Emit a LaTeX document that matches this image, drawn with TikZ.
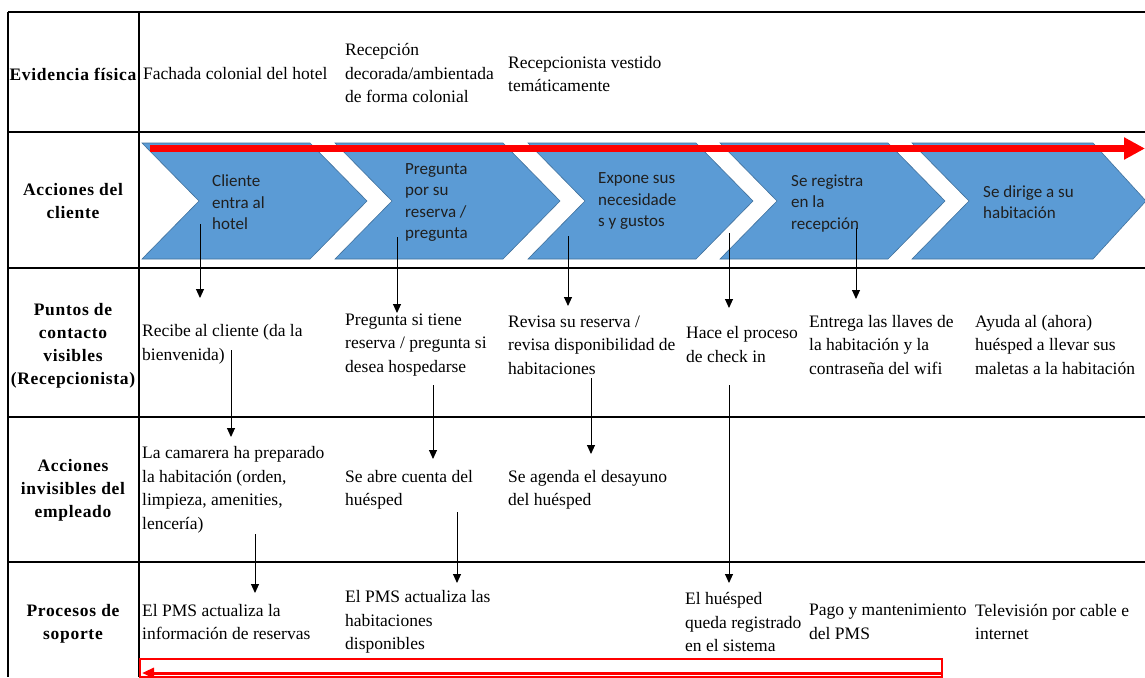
\documentclass[tikz,border=0pt]{standalone}
\usepackage{fontspec}
\setmainfont{Liberation Serif}
\newfontfamily\calibrifont{Carlito}
\newfontfamily\labfont[LetterSpace=4]{Liberation Serif}
\usetikzlibrary{arrows.meta}
\definecolor{chev}{HTML}{5B9BD5}
\definecolor{chevedge}{HTML}{41719C}
\begin{document}
\begin{tikzpicture}[x=1pt,y=-1pt,
  txt/.style={font=\fontsize{17.5}{23.5}\selectfont, align=left, anchor=west, inner sep=0pt},
  lab/.style={font=\labfont\bfseries\fontsize{17.5}{23}\selectfont, align=center, inner sep=0pt},
  ctxt/.style={font=\calibrifont\fontsize{17}{21.5}\selectfont, align=left, anchor=west, inner sep=0pt, text=black!88},
  chevron/.style={fill=chev, draw=chevedge, line width=0.6pt},
  conn/.style={-{Triangle[length=9pt,width=8pt]}, line width=1pt},
  gridline/.style={line width=1.2pt},
  redarrow/.style={draw=red, line width=7pt, -{Triangle[length=21pt,width=21pt]}}]
\useasboundingbox (0,0) rectangle (1145,677);
\fill[white] (0,0) rectangle (1145,677);

% table grid
\foreach \yy in {12,132,268,417,562} \draw[gridline] (8,\yy) -- (1145,\yy);
\draw[line width=2pt] (8,12) -- (8,677);
\draw[line width=2.4pt] (139,12) -- (139,677);

% chevrons
\foreach \x in {142,335,528,720} {
  \draw[chevron] (\x,143) -- ++(168,0) -- ++(57,58) -- ++(-57,58) -- ++(-168,0) -- ++(57,-58) -- cycle;
}
\draw[chevron] (912,143) -- (1093,143) -- (1146,201) -- (1093,259) -- (912,259) -- (969,201) -- cycle;

% red arrow top
\coordinate (rs) at (150,148.5);
\coordinate (re) at (1145,148.5);
\draw[redarrow] (rs) -- (re);

% bottom red
\draw[red, line width=2pt] (140,659) rectangle (942,677);
\coordinate (bs) at (941,673);
\coordinate (be) at (142,673);
\draw[red, line width=3pt, -{Triangle[length=12pt,width=10pt]}] (bs) -- (be);

% row labels
\node[lab] (l1) at (73,74) {Evidencia física};
\node[lab] (l2) at (73,201.5) {Acciones del\\cliente};
\node[lab] (l3) at (73,345.5) {Puntos de\\contacto\\visibles\\(Recepcionista)};
\node[lab] (l4) at (73,490) {Acciones\\invisibles del\\empleado};
\node[lab] (l5) at (73,624) {Procesos de\\soporte};

% row 1
\node[txt] (e1) at (143,74) {Fachada colonial del hotel};
\node[txt] (e2) at (345,73.5) {Recepción\\decorada/ambientada\\de forma colonial};
\node[txt] (e3) at (508,74) {Recepcionista vestido\\temáticamente};

% chevron texts
\node[ctxt] (c1) at (212,202.5) {Cliente\\entra al\\hotel};
\node[ctxt] (c2) at (405,202.5) {Pregunta\\por su\\reserva /\\pregunta};
\node[ctxt] (c3) at (598,201.5) {Expone sus\\necesidade\\s y gustos};
\node[ctxt] (c4) at (791,203.5) {Se registra\\en la\\recepción};
\node[ctxt] (c5) at (983,202) {Se dirige a su\\habitación};

% row 3
\node[txt] (p1) at (142,344.5) {Recibe al cliente (da la\\bienvenida)};
\node[txt] (p2) at (345,345) {Pregunta si tiene\\reserva / pregunta si\\desea hospedarse};
\node[txt] (p3) at (508,345) {Revisa su reserva /\\revisa disponibilidad de\\habitaciones};
\node[txt] (p4) at (686,344.5) {Hace el proceso\\de check in};
\node[txt] (p5) at (809,345) {Entrega las llaves de\\la habitación y la\\contraseña del wifi};
\node[txt] (p6) at (975,345) {Ayuda al (ahora)\\huésped a llevar sus\\maletas a la habitación};

% row 4
\node[txt] (i1) at (142,490) {La camarera ha preparado\\la habitación (orden,\\limpieza, amenities,\\lencería)};
\node[txt] (i2) at (345,490) {Se abre cuenta del\\huésped};
\node[txt] (i3) at (508,490) {Se agenda el desayuno\\del huésped};

% row 5
\node[txt] (s1) at (142,622) {El PMS actualiza la\\información de reservas};
\node[txt] (s2) at (345,622) {El PMS actualiza las\\habitaciones\\disponibles};
\node[txt] (s3) at (685,622) {El huésped\\queda registrado\\en el sistema};
\node[txt] (s4) at (809,622) {Pago y mantenimiento\\del PMS};
\node[txt] (s5) at (975,622) {Televisión por cable e\\internet};

% connectors
\coordinate (a1s) at (200,224); \coordinate (a1e) at (200,298);
\coordinate (a2s) at (397,237); \coordinate (a2e) at (397,313);
\coordinate (a3s) at (568,236); \coordinate (a3e) at (568,306);
\coordinate (a4s) at (729,233); \coordinate (a4e) at (729,308);
\coordinate (a5s) at (856,228); \coordinate (a5e) at (856,299);
\coordinate (a6s) at (231,350); \coordinate (a6e) at (231,437);
\coordinate (a7s) at (433,385); \coordinate (a7e) at (433,459);
\coordinate (a8s) at (591,378); \coordinate (a8e) at (591,454);
\coordinate (a9s) at (255,534); \coordinate (a9e) at (255,593);
\coordinate (a10s) at (457,512); \coordinate (a10e) at (457,583);
\coordinate (a11s) at (729,385); \coordinate (a11e) at (729,583);
\foreach \i in {1,...,11} \draw[conn] (a\i s) -- (a\i e);
\end{tikzpicture}
\end{document}
